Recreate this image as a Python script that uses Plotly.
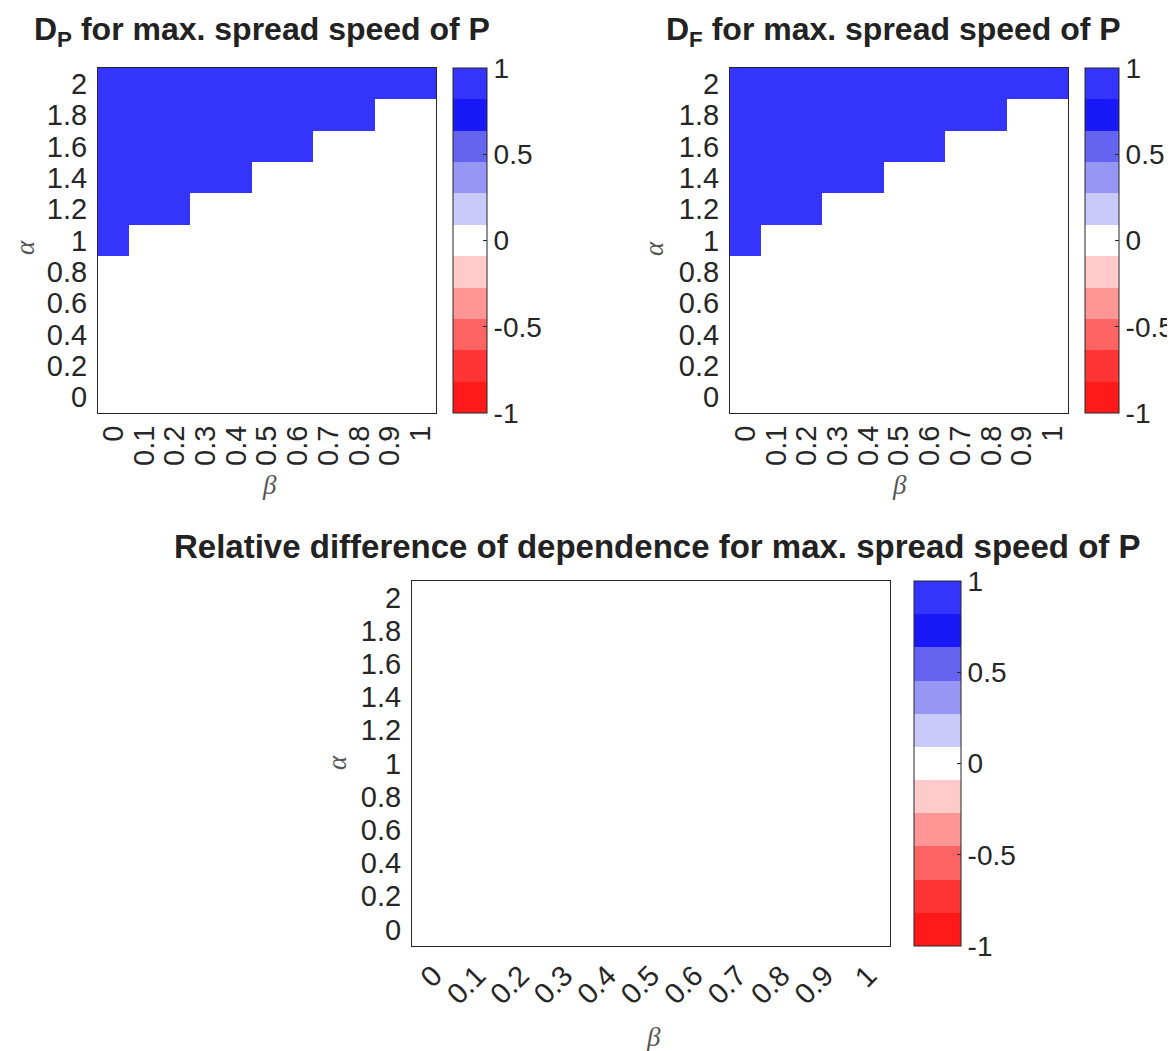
import plotly.graph_objects as go

W, H = 1175, 1051

# ---------------- data ----------------
beta = [0, 0.1, 0.2, 0.3, 0.4, 0.5, 0.6, 0.7, 0.8, 0.9, 1.0]
alpha = [0, 0.2, 0.4, 0.6, 0.8, 1.0, 1.2, 1.4, 1.6, 1.8, 2.0]
beta_labels = ['0', '0.1', '0.2', '0.3', '0.4', '0.5', '0.6', '0.7', '0.8', '0.9', '1']
alpha_labels = ['0', '0.2', '0.4', '0.6', '0.8', '1', '1.2', '1.4', '1.6', '1.8', '2']
cbar_ticks = [-1, -0.5, 0, 0.5, 1]
cbar_labels = ['-1', '-0.5', '0', '0.5', '1']

# rows: alpha = 0 ... 2 ; columns: beta = 0 ... 1
D_P = [
    [0, 0, 0, 0, 0, 0, 0, 0, 0, 0, 0],
    [0, 0, 0, 0, 0, 0, 0, 0, 0, 0, 0],
    [0, 0, 0, 0, 0, 0, 0, 0, 0, 0, 0],
    [0, 0, 0, 0, 0, 0, 0, 0, 0, 0, 0],
    [0, 0, 0, 0, 0, 0, 0, 0, 0, 0, 0],
    [1, 0, 0, 0, 0, 0, 0, 0, 0, 0, 0],
    [1, 1, 1, 0, 0, 0, 0, 0, 0, 0, 0],
    [1, 1, 1, 1, 1, 0, 0, 0, 0, 0, 0],
    [1, 1, 1, 1, 1, 1, 1, 0, 0, 0, 0],
    [1, 1, 1, 1, 1, 1, 1, 1, 1, 0, 0],
    [1, 1, 1, 1, 1, 1, 1, 1, 1, 1, 1],
]
D_F = [
    [0, 0, 0, 0, 0, 0, 0, 0, 0, 0, 0],
    [0, 0, 0, 0, 0, 0, 0, 0, 0, 0, 0],
    [0, 0, 0, 0, 0, 0, 0, 0, 0, 0, 0],
    [0, 0, 0, 0, 0, 0, 0, 0, 0, 0, 0],
    [0, 0, 0, 0, 0, 0, 0, 0, 0, 0, 0],
    [1, 0, 0, 0, 0, 0, 0, 0, 0, 0, 0],
    [1, 1, 1, 0, 0, 0, 0, 0, 0, 0, 0],
    [1, 1, 1, 1, 1, 0, 0, 0, 0, 0, 0],
    [1, 1, 1, 1, 1, 1, 1, 0, 0, 0, 0],
    [1, 1, 1, 1, 1, 1, 1, 1, 1, 0, 0],
    [1, 1, 1, 1, 1, 1, 1, 1, 1, 1, 1],
]
rel_diff = [
    [0, 0, 0, 0, 0, 0, 0, 0, 0, 0, 0],
    [0, 0, 0, 0, 0, 0, 0, 0, 0, 0, 0],
    [0, 0, 0, 0, 0, 0, 0, 0, 0, 0, 0],
    [0, 0, 0, 0, 0, 0, 0, 0, 0, 0, 0],
    [0, 0, 0, 0, 0, 0, 0, 0, 0, 0, 0],
    [0, 0, 0, 0, 0, 0, 0, 0, 0, 0, 0],
    [0, 0, 0, 0, 0, 0, 0, 0, 0, 0, 0],
    [0, 0, 0, 0, 0, 0, 0, 0, 0, 0, 0],
    [0, 0, 0, 0, 0, 0, 0, 0, 0, 0, 0],
    [0, 0, 0, 0, 0, 0, 0, 0, 0, 0, 0],
    [0, 0, 0, 0, 0, 0, 0, 0, 0, 0, 0],
]

# 11 discrete bands from -1 (bottom) to 1 (top)
band_colors = [
    'rgb(255,25,25)', 'rgb(255,52,52)', 'rgb(255,100,100)', 'rgb(255,150,150)',
    'rgb(255,202,202)', 'rgb(255,255,255)', 'rgb(202,202,250)', 'rgb(150,150,245)',
    'rgb(100,100,240)', 'rgb(25,25,245)', 'rgb(52,52,252)',
]

# ---------------- styling ----------------
n = len(band_colors)
colorscale = []
for i, c in enumerate(band_colors):
    colorscale.append([i / n, c])
    colorscale.append([(i + 1) / n, c])

FONT = 'Liberation Sans, Arial, Helvetica, sans-serif'
SERIF = 'Liberation Serif, Times New Roman, serif'
TXT = '#262626'
TICK_SIZE = 29
CBAR_SIZE = 28


def dx(a, b):
    return [a / W, b / W]


def dy(top, bottom):
    return [1 - bottom / H, 1 - top / H]


# panel geometry in pixels: (left, right, top, bottom, cbar_left, cbar_width)
panels = [
    (90, 428, 60, 405, 445, 34),
    (722, 1060, 60, 405, 1077, 34),
    (404, 882, 573, 938, 906, 47),
]

fig = go.Figure()
datasets = [D_P, D_F, rel_diff]
for k, (z, (l, r, t, b, cl, cw)) in enumerate(zip(datasets, panels)):
    sfx = '' if k == 0 else str(k + 1)
    fig.add_trace(go.Heatmap(
        x=beta, y=alpha, z=z,
        colorscale=colorscale, zmin=-1, zmax=1,
        xaxis='x' + sfx, yaxis='y' + sfx,
        hoverinfo='skip',
        colorbar=dict(
            x=cl / W, xanchor='left', y=1 - t / H, yanchor='top',
            lenmode='pixels', len=b - t, thicknessmode='pixels', thickness=cw,
            xpad=0, ypad=0, outlinewidth=1, outlinecolor=TXT,
            tickmode='array', tickvals=cbar_ticks, ticktext=cbar_labels,
            ticks='inside', ticklen=4, tickcolor=TXT,
            tickfont=dict(family=FONT, size=CBAR_SIZE, color=TXT),
        ),
    ))
    axis_common = dict(showline=True, mirror=True, linecolor=TXT, linewidth=1,
                       ticks='', showgrid=False, zeroline=False, automargin=False,
                       tickfont=dict(family=FONT, size=TICK_SIZE, color=TXT))
    fig.update_layout(**{
        'xaxis' + sfx: dict(domain=dx(l, r), anchor='y' + sfx, range=[-0.05, 1.05],
                            tickmode='array', tickvals=beta, ticktext=beta_labels,
                            tickangle=-90 if k < 2 else -45, **axis_common),
        'yaxis' + sfx: dict(domain=dy(t, b), anchor='x' + sfx, range=[-0.1, 2.1],
                            tickmode='array', tickvals=alpha, ticktext=alpha_labels,
                            ticklabelstandoff=4, **axis_common),
    })

# (text, centre x px, baseline y px, font size)
titles = [
    ('D<sub>P</sub> for max. spread speed of P', 254, 37, 32),
    ('D<sub>F</sub> for max. spread speed of P', 885, 37, 32),
    ('Relative difference of dependence for max. spread speed of P', 649, 550, 33),
]
annotations = []
for text, cx, base, fs in titles:
    annotations.append(dict(text='<b>' + text + '</b>', x=cx / W,
                            y=1 - (base + 0.24 * fs) / H,
                            xref='paper', yref='paper', xanchor='center', yanchor='bottom',
                            showarrow=False, borderpad=0,
                            font=dict(family=FONT, size=fs, color='#222222')))

axis_labels = [
    ('\u03b1', 17, 240, -90), ('\u03b2', 261, 477, 0),
    ('\u03b1', 646, 240, -90), ('\u03b2', 891, 477, 0),
    ('\u03b1', 329, 755, -90), ('\u03b2', 646, 1029, 0),
]
for text, cx, cy, ang in axis_labels:
    annotations.append(dict(text='<i>' + text + '</i>', x=cx / W, y=1 - cy / H,
                            xref='paper', yref='paper', xanchor='center', yanchor='middle',
                            textangle=ang, showarrow=False, borderpad=0,
                            font=dict(family=SERIF, size=27, color='#555555')))

fig.update_layout(
    width=W, height=H,
    margin=dict(l=0, r=0, t=0, b=0),
    paper_bgcolor='white', plot_bgcolor='white',
    font=dict(family=FONT, color=TXT),
    annotations=annotations,
    showlegend=False,
)

fig.write_html('out.html')
